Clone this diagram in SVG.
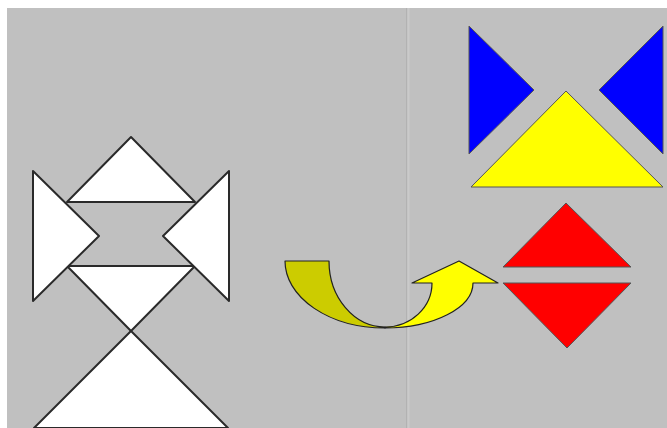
<svg xmlns="http://www.w3.org/2000/svg" width="667" height="428" viewBox="0 0 667 428">
<style>
.w{fill:#ffffff;stroke:#2a2a2a;stroke-width:2;stroke-linejoin:round}
.c{stroke:#555;stroke-width:1;stroke-linejoin:round}
.a{stroke:#222;stroke-width:1.2;stroke-linejoin:round}
.blue{fill:#0000ff}
.yel{fill:#ffff00}
.dyel{fill:#cccc00}
.red{fill:#ff0000}
</style>
<rect x="0" y="0" width="667" height="428" fill="#ffffff"/>
<rect x="7" y="8" width="660" height="420" fill="#c0c0c0"/>
<line x1="406.5" y1="8" x2="406.5" y2="428" stroke="#b2b2b2" stroke-width="1"/>
<line x1="408.5" y1="8" x2="408.5" y2="428" stroke="#cacaca" stroke-width="2"/>
<g id="left-figure">
<polygon id="top-tri" class="w" points="131,137 67,202 195,202"/>
<polygon id="mid-tri" class="w" points="67,266 195,266 131,331"/>
<polygon id="bottom-tri" class="w" points="131,331 34,428 228,428"/>
<polygon id="left-tri" class="w" points="33,171 33,301 99,236"/>
<polygon id="right-tri" class="w" points="229,171 229,301 163,236"/>
</g>
<g id="arrow">
<path id="arrow-back" class="a dyel" d="M285,261 L329,261 A56,66 0 0 0 385,327 L385,328 A100,67 0 0 1 285,261 Z"/>
<path id="arrow-front" class="a yel" d="M385,327 A47,44 0 0 0 432,283 L412,283 L459,261 L498,283 L473,283 A88,45 0 0 1 385,328 Z"/>
</g>
<g id="right-figure">
<polygon id="blue-left" class="c blue" points="469,26 469,154 534,90"/>
<polygon id="blue-right" class="c blue" points="663,26 663,154 599,90"/>
<polygon id="yellow-tri" class="c yel" points="566,91 471,187 663,187"/>
<polygon id="red-top" class="c red" points="566,203 503,267 631,267"/>
<polygon id="red-bottom" class="c red" points="503,283 631,283 567,348"/>
</g>
</svg>
